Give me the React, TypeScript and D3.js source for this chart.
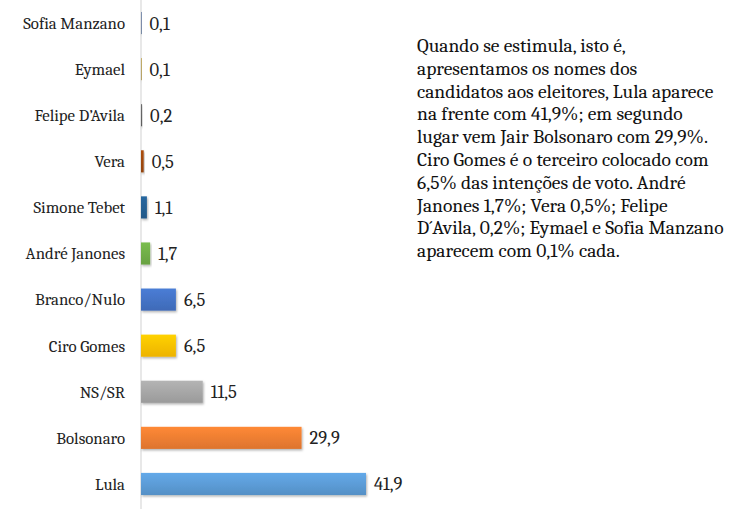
import React from 'react';
import * as d3 from 'd3';

const categories = ['Sofia Manzano', 'Eymael', 'Felipe D\u2019Avila', 'Vera', 'Simone Tebet', 'André Janones', 'Branco/Nulo', 'Ciro Gomes', 'NS/SR', 'Bolsonaro', 'Lula'];
const values = [0.1, 0.1, 0.2, 0.5, 1.1, 1.7, 6.5, 6.5, 11.5, 29.9, 41.9];
const colors = ['#264478', '#997300', '#636363', '#9e480e', '#255e91', '#70ad47', '#4472c4', '#ffc000', '#a5a5a5', '#ed7d31', '#5b9bd5'];
const noteLines = [
  'Quando se estimula, isto é,',
  'apresentamos os nomes dos',
  'candidatos aos eleitores, Lula aparece',
  'na frente com 41,9%; em segundo',
  'lugar vem Jair Bolsonaro com 29,9%.',
  'Ciro Gomes é o terceiro colocado com',
  '6,5% das intenções de voto. André',
  'Janones 1,7%; Vera 0,5%; Felipe',
  'D´Avila, 0,2%; Eymael e Sofia Manzano',
  'aparecem com 0,1% cada.',
];

const W = 740;
const H = 509;
const FONT = 'Cambria, "DejaVu Serif", serif';

export default function App() {
  const x = d3.scaleLinear().domain([0, 41.9]).range([141, 366]);
  const y = d3.scaleBand<string>().domain(categories).range([0, 507]).paddingInner(0.52).paddingOuter(0.26);
  const fmt = (v: number) => v.toFixed(1).replace('.', ',');

  return (
    <svg width={W} height={H} style={{ position: 'absolute', left: 0, top: 0, background: '#fff' }}>
      <defs>
        {colors.map((c, i) => {
          const base = d3.color(c)!;
          return (
            <linearGradient key={i} id={`g${i}`} x1="0" y1="0" x2="0" y2="1">
              <stop offset="0" stopColor={d3.color(base)!.brighter(0.25).formatHex()} />
              <stop offset="1" stopColor={d3.color(base)!.darker(0.2).formatHex()} />
            </linearGradient>
          );
        })}
        <filter id="sh" x="-10%" y="-20%" width="130%" height="160%">
          <feDropShadow dx="1" dy="1.5" stdDeviation="1" floodColor="#000" floodOpacity="0.3" />
        </filter>
      </defs>
      <line x1={x(0)} x2={x(0)} y1={0} y2={H} stroke="#d9d9d9" strokeWidth={1.2} />
      {categories.map((c, i) => {
        const yy = y(c)!;
        const bw = y.bandwidth();
        const cy = yy + bw / 2;
        return (
          <g key={c}>
            <rect x={x(0)} y={yy} width={x(values[i]) - x(0)} height={bw} fill={`url(#g${i})`} filter="url(#sh)" />
            <text x={125} y={cy} dy="0.35em" textAnchor="end" fontFamily={FONT} fontSize={16.8} fill="#222">{c}</text>
            <text x={x(values[i]) + 8} y={cy} dy="0.35em" fontFamily={FONT} fontSize={18.5} fill="#222">{fmt(values[i])}</text>
          </g>
        );
      })}
      <text fontFamily={FONT} fontSize={19.5} fill="#111">
        {noteLines.map((l, i) => (
          <tspan key={i} x={417} y={52 + i * 22.8}>{l}</tspan>
        ))}
      </text>
    </svg>
  );
}
